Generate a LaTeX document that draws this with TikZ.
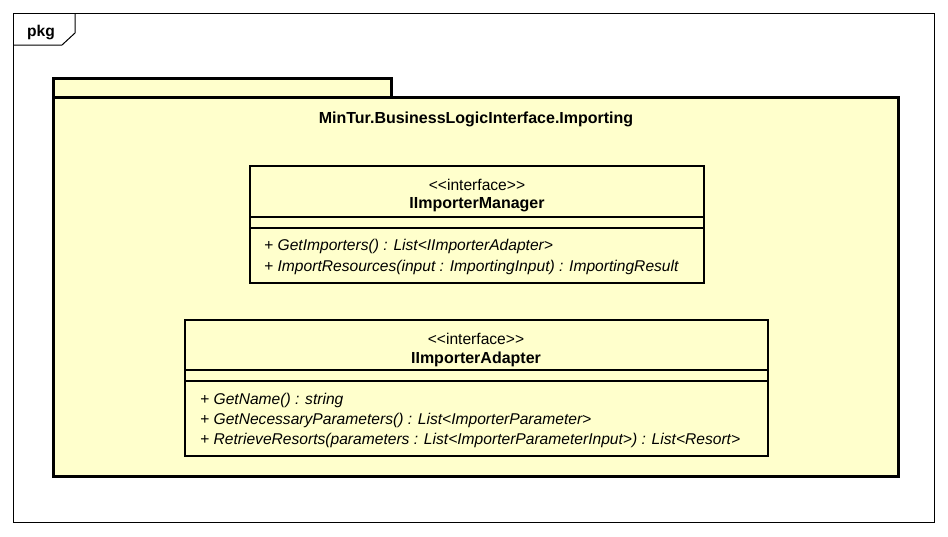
\documentclass[tikz,border=0pt]{standalone}
\usepackage{fontspec}
\setmainfont{Liberation Sans}
\definecolor{pkgfill}{HTML}{FFFFCC}
\newcommand{\stereo}{<\kern0pt<interface>\kern0pt>}
\tikzset{
  frameline/.style={draw=black, line width=1pt},
  pkgbox/.style={draw=black, fill=pkgfill, line width=3pt},
  classbox/.style={draw=black, fill=pkgfill, line width=2.5pt},
  sepline/.style={draw=black, line width=1.2pt},
  txt/.style={inner sep=0pt, font=\fontsize{15.6}{18}\selectfont},
  btxt/.style={inner sep=0pt, font=\fontsize{16}{18}\selectfont\bfseries},
  optxt/.style={txt, anchor=west, font=\fontsize{15.6}{18}\selectfont\itshape},
}
\begin{document}
\begin{tikzpicture}[x=1pt,y=-1pt]
\useasboundingbox (0,0) rectangle (948,536);
% outer frame
\draw[frameline] (13,13) rectangle (934,522);
\draw[frameline] (13,45) -- (62,45) -- (75,33) -- (75,13);
\node[btxt, font=\fontsize{15.6}{18}\selectfont\bfseries] (pkglabel) at (41,32) {pkg};
% package
\draw[pkgbox] (53,97) rectangle (391,78);
\draw[pkgbox] (53,97) rectangle (898,476);
\node[btxt] (pkgname) at (476,119) {MinTur.BusinessLogicInterface.Importing};
% class 1
\draw[classbox] (250,166) rectangle (704,283);
\draw[sepline] (250,217) -- (704,217);
\draw[sepline] (250,228) -- (704,228);
\node[txt] (st1) at (477,185) {\stereo};
\node[btxt] (n1) at (477,205) {IImporterManager};
\node[optxt] (op11) at (264,246) {+ GetImporters() : List<IImporterAdapter>};
\node[optxt] (op12) at (264,267) {+ ImportResources(input : ImportingInput) : ImportingResult};
% class 2
\draw[classbox] (185,320) rectangle (768,456);
\draw[sepline] (185,370) -- (768,370);
\draw[sepline] (185,381) -- (768,381);
\node[txt] (st2) at (476,339) {\stereo};
\node[btxt] (n2) at (476,359) {IImporterAdapter};
\node[optxt] (op21) at (200,400) {+ GetName() : string};
\node[optxt] (op22) at (200,420) {+ GetNecessaryParameters() : List<ImporterParameter>};
\node[optxt] (op23) at (200,440) {+ RetrieveResorts(parameters : List<ImporterParameterInput>) : List<Resort>};
\end{tikzpicture}
\end{document}
